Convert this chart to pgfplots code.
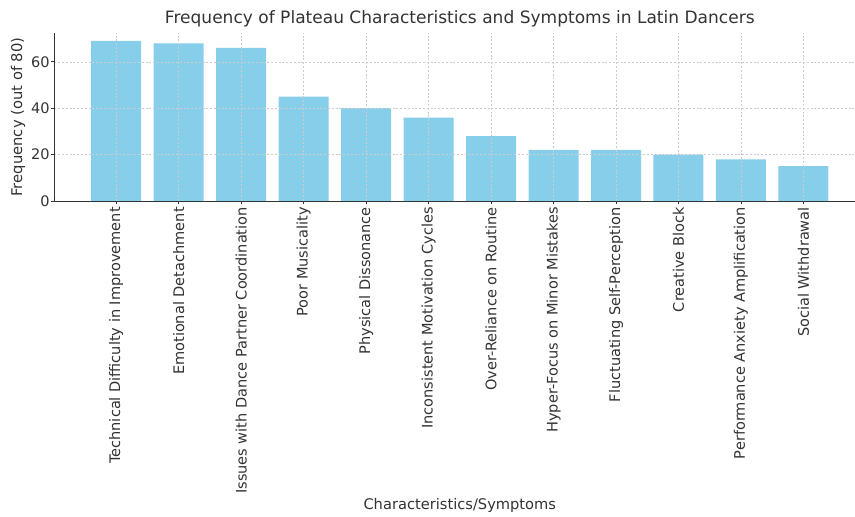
\documentclass[border=0pt]{standalone}
\usepackage{pgfplots}
\pgfplotsset{compat=1.18}
\usepackage{fontspec}
\setmainfont{DejaVu Sans}
\definecolor{barblue}{HTML}{87CEEB}
\definecolor{txt}{HTML}{333333}
\begin{document}
\begin{tikzpicture}
\begin{axis}[
  at={(54.3bp,316bp)}, anchor=south west,
  scale only axis, width=811bp, height=168bp,
  xmin=-0.99, xmax=11.99, ymin=0, ymax=72.45,
  axis on top,
  axis x line*=bottom, axis y line*=left,
  axis line style={txt, line width=0.9bp},
  xtick={0,...,11},
  xticklabels={Technical Difficulty in Improvement, Emotional Detachment, Issues with Dance Partner Coordination, Poor Musicality, Physical Dissonance, Inconsistent Motivation Cycles, Over-Reliance on Routine, Hyper-Focus on Minor Mistakes, Fluctuating Self-Perception, Creative Block, Performance Anxiety Amplification, Social Withdrawal},
  ytick={0,20,40,60},
  tick align=outside, major tick length=3.5bp,
  tick style={txt, line width=0.8bp},
  xticklabel style={rotate=90, anchor=east, font=\fontsize{14.6}{17}\selectfont, text=txt, inner sep=0pt, xshift=-2.5bp},
  yticklabel style={font=\fontsize{14.6}{17}\selectfont, text=txt, inner sep=0pt, xshift=-1bp},
  /pgf/number format/assume math mode=true,
  grid=major,
  grid style={gray!40, dash pattern=on 2bp off 1.8bp, line width=0.5bp},
  clip=false,
]
\addplot[ybar, bar width=0.8, fill=barblue, draw=none] coordinates {
(0,69) (1,68) (2,66) (3,45) (4,40) (5,36) (6,28) (7,22) (8,22) (9,20) (10,18) (11,15)
};
\node[font=\fontsize{17.1}{20}\selectfont, text=txt] at (rel axis cs:0.5,1.083) {Frequency of Plateau Characteristics and Symptoms in Latin Dancers};
\node[font=\fontsize{14.7}{17}\selectfont, text=txt] at (rel axis cs:0.5,-1.815) {Characteristics/Symptoms};
\node[font=\fontsize{14.8}{17}\selectfont, text=txt, rotate=90] at (rel axis cs:-0.0448,0.5) {Frequency (out of 80)};
\end{axis}
\pgfresetboundingbox
\useasboundingbox (0,0) rectangle (855bp,517bp);
\end{tikzpicture}
\end{document}
